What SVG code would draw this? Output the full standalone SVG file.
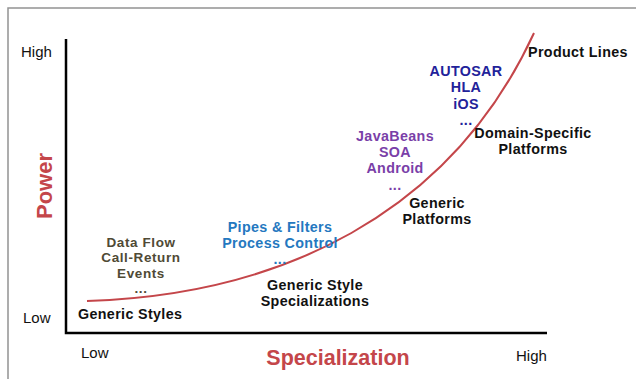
<svg xmlns="http://www.w3.org/2000/svg" width="636" height="379" viewBox="0 0 636 379">
<style>
text{font-family:"Liberation Sans",Arial,sans-serif}
.b{font-weight:bold;font-size:14.3px;letter-spacing:0.35px}
.m{text-anchor:middle}
.ax{font-size:15px;fill:#111}
.k{fill:#111}
.olive{fill:#4f4a35;font-size:13.5px;letter-spacing:0.6px}
.blue{fill:#2478c0}
.purple{fill:#7a3fa8}
.navy{fill:#22229a}
.red{fill:#c4464a;font-weight:bold}
</style>
<rect width="636" height="379" fill="#fff"/>
<path d="M8,379 V8 H636" fill="none" stroke="#939393" stroke-width="1.5"/>
<g id="axes" fill="none" stroke="#000" stroke-width="2.5">
<path d="M66,39 V333 H547"/>
</g>
<g id="axis-labels">
<text class="ax" x="21" y="57">High</text>
<text class="ax" x="23" y="323">Low</text>
<text class="ax" x="81" y="358">Low</text>
<text class="ax" x="516" y="361">High</text>
<text class="red m" font-size="22" transform="translate(52,186) rotate(-90)">Power</text>
<text class="red m" font-size="21.5" x="338" y="365">Specialization</text>
</g>
<g id="connectors">
<path d="M87,301 C280,295 450,215 534,33" fill="none" stroke="#c4464a" stroke-width="2"/>
</g>
<g id="generic-styles">
<text class="b olive m" x="141" y="247">Data Flow</text>
<text class="b olive m" x="141" y="262.3">Call-Return</text>
<text class="b olive m" x="141" y="277.6">Events</text>
<text class="b olive m" x="141" y="292.9">...</text>
<text class="b k" x="78" y="319">Generic Styles</text>
</g>
<g id="generic-style-specializations">
<text class="b blue m" x="280" y="232">Pipes &amp; Filters</text>
<text class="b blue m" x="280" y="248.2">Process Control</text>
<text class="b blue m" x="280" y="264.4">...</text>
<text class="b k m" x="315" y="290">Generic Style</text>
<text class="b k m" x="315" y="306.2">Specializations</text>
</g>
<g id="generic-platforms">
<text class="b purple m" x="395" y="141">JavaBeans</text>
<text class="b purple m" x="395" y="157.2">SOA</text>
<text class="b purple m" x="395" y="173.4">Android</text>
<text class="b purple m" x="395" y="189.6">...</text>
<text class="b k m" x="437" y="208">Generic</text>
<text class="b k m" x="437" y="224.2">Platforms</text>
</g>
<g id="domain-specific-platforms">
<text class="b navy m" x="466" y="76">AUTOSAR</text>
<text class="b navy m" x="466" y="92.3">HLA</text>
<text class="b navy m" x="466" y="108.6">iOS</text>
<text class="b navy m" x="466" y="124.9">...</text>
<text class="b k m" x="533" y="138">Domain-Specific</text>
<text class="b k m" x="533" y="154.2">Platforms</text>
</g>
<g id="product-lines">
<text class="b k" x="528" y="57">Product Lines</text>
</g>
</svg>
